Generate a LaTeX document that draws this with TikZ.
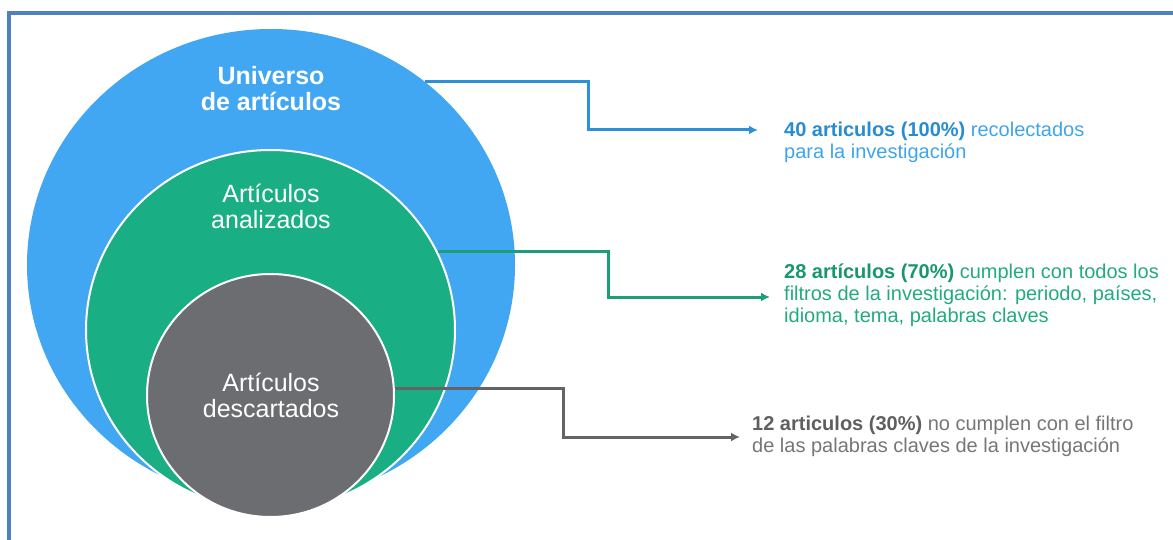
\documentclass[tikz,border=0pt]{standalone}
\usepackage{fontspec}
\setmainfont{Liberation Sans}
\usetikzlibrary{shapes.geometric,arrows.meta}
\definecolor{frameblue}{RGB}{79,129,189}
\definecolor{cblue}{RGB}{66,167,242}
\definecolor{cgreen}{RGB}{26,174,132}
\definecolor{cgrey}{RGB}{108,109,112}
\definecolor{lblue}{RGB}{44,145,214}
\definecolor{lgreen}{RGB}{30,158,120}
\definecolor{lgrey}{RGB}{100,100,102}
\definecolor{tblue}{RGB}{62,165,235}
\definecolor{bblue}{RGB}{40,140,210}
\definecolor{tgreen}{RGB}{34,170,128}
\definecolor{bgreen}{RGB}{24,150,112}
\definecolor{tgrey}{RGB}{118,118,120}
\definecolor{bgrey}{RGB}{95,95,97}
\begin{document}
\begin{tikzpicture}[x=1pt,y=-1pt,
  disc/.style={ellipse, inner sep=0pt},
  ring/.style={disc, draw=white, line width=2pt},
  intext/.style={text=white, align=center, anchor=base, inner sep=0pt,
    font=\fontsize{25}{26}\selectfont},
  lbl/.style={align=left, anchor=base west, inner sep=0pt,
    font=\fontsize{20}{22}\selectfont},
  con/.style={line width=3pt, -{Latex[length=9pt,width=9pt]}}
]
\useasboundingbox (0,0) rectangle (1173,540);

% frame lines along the top and left edge
\draw[frameblue, line width=3.5pt] (1173,13) -- (9,13) -- (9,540);

% nested sets
\node[disc, fill=cblue, minimum width=488pt, minimum height=472pt] (blue) at (271,265) {};
\node[ring, fill=cgreen, minimum width=369pt, minimum height=360pt] (green) at (270.5,330) {};
\node[ring, fill=cgrey, minimum width=247pt, minimum height=243pt] (grey) at (270.5,395.5) {};

% set titles (anchored on the baseline of their last line)
\node[intext, font=\fontsize{25}{26}\selectfont\bfseries] (tuniv) at (271,111) {Universo\\de artículos};
\node[intext] (tanal) at (271,229) {Artículos\\analizados};
\node[intext] (tdesc) at (271,417) {Artículos\\descartados};

% arrow end points
\coordinate (tipB) at (758,130);
\coordinate (tipG) at (770,297);
\coordinate (tipY) at (740,437);

% connectors
\draw[con, lblue] (blue.50) -| (588,130) -- (tipB);
\draw[con, lgreen] (green.25) -| (608,297) -- (tipG);
\draw[con, lgrey] (grey.3) -| (563,437) -- (tipY);

% descriptions (anchored on the baseline of their last line)
\node[lbl, text=tblue] (lblB) at (784,159)
  {\textbf{\color{bblue}40 articulos (100\%)} recolectados\\para la investigación};
\node[lbl, text=tgreen] (lblG) at (784,322)
  {\textbf{\color{bgreen}28 artículos (70\%)} cumplen con todos los\\filtros de la investigación: periodo, países,\\idioma, tema, palabras claves};
\node[lbl, text=tgrey] (lblY) at (752,452)
  {\textbf{\color{bgrey}12 articulos (30\%)} no cumplen con el filtro\\de las palabras claves de la investigación};
\end{tikzpicture}
\end{document}
